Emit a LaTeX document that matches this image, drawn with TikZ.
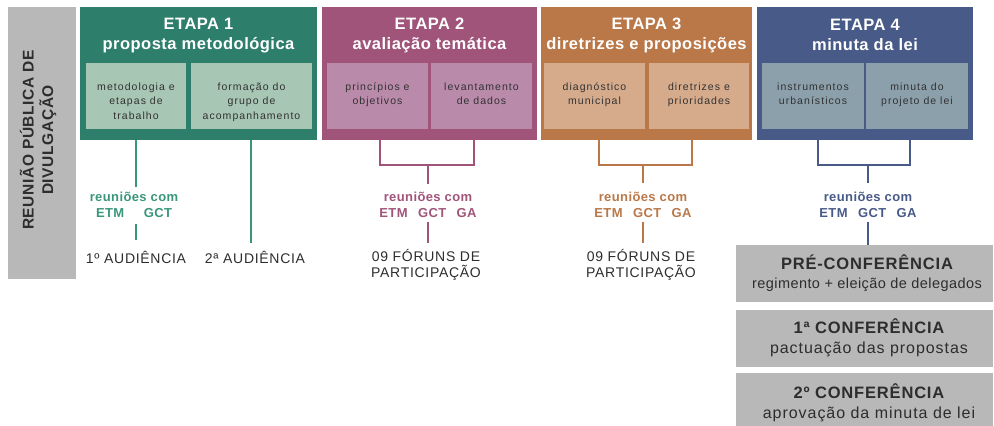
\documentclass[tikz,border=0pt]{standalone}
\usepackage{fontspec}
\setmainfont{Liberation Sans}
\newcommand{\gtitlefont}{\fontsize{16.5}{19}\selectfont\bfseries\addfontfeature{LetterSpace=5}}
\newcommand{\gsubsmall}{\fontsize{14.5}{19}\selectfont\addfontfeature{LetterSpace=3}}
\definecolor{cA}{RGB}{46,126,108}
\definecolor{cAl}{RGB}{168,198,180}
\definecolor{cAt}{RGB}{58,150,122}
\definecolor{cB}{RGB}{160,84,122}
\definecolor{cBl}{RGB}{186,138,170}
\definecolor{cC}{RGB}{186,120,72}
\definecolor{cCl}{RGB}{214,171,140}
\definecolor{cD}{RGB}{72,90,135}
\definecolor{cDl}{RGB}{140,160,172}
\definecolor{gbox}{RGB}{184,184,184}
\definecolor{dtext}{RGB}{45,45,45}
\definecolor{itext}{RGB}{50,50,50}
\begin{document}
\begin{tikzpicture}[x=1pt,y=-1pt,
  every node/.style={inner sep=0pt, outer sep=0pt},
  etapabox/.style={rectangle, minimum height=133pt},
  inbox/.style={rectangle, minimum height=66pt},
  titletext/.style={text=white, align=center, font=\fontsize{16.5}{20}\selectfont\bfseries\addfontfeature{LetterSpace=3}},
  intext/.style={text=itext, align=center, anchor=north, font=\fontsize{10.5}{14.5}\selectfont\addfontfeature{LetterSpace=10}},
  reuntext/.style={align=center, font=\fontsize{13}{16}\selectfont\bfseries\addfontfeature{LetterSpace=3}},
  evtext/.style={text=dtext, align=center, font=\fontsize{14}{16}\selectfont\addfontfeature{LetterSpace=5}},
  graybox/.style={rectangle, fill=gbox, minimum width=257pt},
  graytext/.style={align=center, text=dtext, font=\fontsize{16}{19.5}\selectfont\addfontfeature{LetterSpace=6}},
  conn/.style={line width=2.6pt},
]
\useasboundingbox (0,0) rectangle (994,426);

% left vertical box
\node[rectangle, fill=gbox, minimum width=68pt, minimum height=272pt] (rp) at (42,143) {};
\node[rotate=90, text=dtext, align=center, font=\fontsize{15.5}{19.5}\selectfont\bfseries\addfontfeature{LetterSpace=4}] (rpt) at (38,140) {REUNIÃO PÚBLICA DE\\DIVULGAÇÃO};

% ETAPA 1
\node[etapabox, fill=cA, minimum width=237pt] (e1) at (198.5,73.5) {};
\node[titletext] (t1) at (198.5,35.5) {ETAPA 1\\proposta metodológica};
\node[inbox, fill=cAl, minimum width=100pt] (i11) at (136,96) {};
\node[inbox, fill=cAl, minimum width=121pt] (i12) at (251.5,96) {};
\node[intext] at (136,82.5) {metodologia e\\etapas de\\trabalho};
\node[intext] at (251.5,82.5) {formação do\\grupo de\\acompanhamento};

% ETAPA 2
\node[etapabox, fill=cB, minimum width=215pt] (e2) at (429.5,73.5) {};
\node[titletext] (t2) at (429.5,35.5) {ETAPA 2\\avaliação temática};
\node[inbox, fill=cBl, minimum width=101pt] (i21) at (377.5,96) {};
\node[inbox, fill=cBl, minimum width=101pt] (i22) at (481.5,96) {};
\node[intext] at (377.5,82.5) {princípios e\\objetivos};
\node[intext] at (481.5,82.5) {levantamento\\de dados};

% ETAPA 3
\node[etapabox, fill=cC, minimum width=211pt] (e3) at (646.5,73.5) {};
\node[titletext] (t3) at (646.5,35.5) {ETAPA 3\\diretrizes e proposições};
\node[inbox, fill=cCl, minimum width=101pt] (i31) at (594.5,96) {};
\node[inbox, fill=cCl, minimum width=100pt] (i32) at (699,96) {};
\node[intext] at (594.5,82.5) {diagnóstico\\municipal};
\node[intext] at (699,82.5) {diretrizes e\\prioridades};

% ETAPA 4
\node[etapabox, fill=cD, minimum width=216pt] (e4) at (865,73.5) {};
\node[titletext] (t4) at (865,35) {ETAPA 4\\minuta da lei};
\node[inbox, fill=cDl, minimum width=102pt] (i41) at (813,96) {};
\node[inbox, fill=cDl, minimum width=102pt] (i42) at (917,96) {};
\node[intext] at (813,82.5) {instrumentos\\urbanísticos};
\node[intext] at (917,82.5) {minuta do\\projeto de lei};

% lower texts
\node[reuntext, text=cAt] (r1) at (134,205) {reuniões com\\ETM\hspace{1.5em}GCT};
\node[evtext] (a1) at (136,257) {1º AUDIÊNCIA};
\node[evtext] (a2) at (255,257) {2ª AUDIÊNCIA};

\node[reuntext, text=cB] (r2) at (428,205) {reuniões com\\ETM\hspace{0.8em}GCT\hspace{0.8em}GA};
\node[evtext] (f2) at (426,265) {09 FÓRUNS DE\\PARTICIPAÇÃO};

\node[reuntext, text=cC] (r3) at (643,205) {reuniões com\\ETM\hspace{0.8em}GCT\hspace{0.8em}GA};
\node[evtext] (f3) at (641,265) {09 FÓRUNS DE\\PARTICIPAÇÃO};

\node[reuntext, text=cD] (r4) at (868,205) {reuniões com\\ETM\hspace{0.8em}GCT\hspace{0.8em}GA};

% gray boxes
\node[graybox, minimum height=57pt] (g1) at (864.5,273.5) {};
\node[graytext] at (867,273) {{\gtitlefont PRÉ-CONFERÊNCIA}\\{\gsubsmall regimento + eleição de delegados}};
\node[graybox, minimum height=57pt] (g2) at (864.5,338.5) {};
\node[graytext] at (869,338) {{\gtitlefont 1ª CONFERÊNCIA}\\pactuação das propostas};
\node[graybox, minimum height=55pt] (g3) at (864.5,400.5) {};
\node[graytext] at (869,403) {{\gtitlefont 2º CONFERÊNCIA}\\aprovação da minuta de lei};

% connectors ETAPA 1
\coordinate (c11) at (136,140);
\coordinate (c12) at (251,140);
\draw[conn, cAt] (c11) -- (136,187);
\draw[conn, cAt] (136,224) -- (136,240);
\draw[conn, cAt] (c12) -- (251,243);

% ETAPA 2
\draw[conn, cB] (380,140) -- (380,165) -- (474,165) -- (474,140);
\draw[conn, cB] (428,165) -- (428,184);
\draw[conn, cB] (428,222) -- (428,243);
% ETAPA 3
\draw[conn, cC] (599,140) -- (599,165) -- (692,165) -- (692,140);
\draw[conn, cC] (643,165) -- (643,183);
\draw[conn, cC] (643,222) -- (643,243);
% ETAPA 4
\draw[conn, cD] (818,140) -- (818,165) -- (910,165) -- (910,140);
\draw[conn, cD] (868,165) -- (868,183);
\draw[conn, cD] (868,222) -- (g1.north -| 868,0);
\end{tikzpicture}
\end{document}
